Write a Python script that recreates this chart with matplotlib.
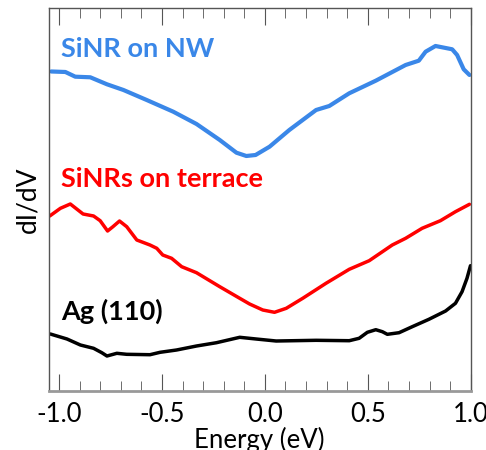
import matplotlib
matplotlib.use("Agg")
import matplotlib.pyplot as plt
from matplotlib.ticker import MultipleLocator

# --- data (energy in eV, dI/dV in arb. units) ---
nw_energy = [-1.038, -0.969, -0.921, -0.848, -0.767, -0.687, -0.574, -0.445,
             -0.332, -0.219, -0.138, -0.090, -0.045, 0.023, 0.119, 0.249,
             0.313, 0.410, 0.539, 0.684, 0.748, 0.781, 0.829, 0.910, 0.934,
             0.966, 0.994]
nw_didv = [3.285, 3.28, 3.233, 3.227, 3.157, 3.10, 3.00, 2.883, 2.76, 2.60,
           2.473, 2.44, 2.45, 2.533, 2.70, 2.90, 2.94, 3.067, 3.193, 3.35,
           3.393, 3.483, 3.54, 3.507, 3.45, 3.307, 3.25]

terrace_energy = [-1.045, -0.993, -0.945, -0.883, -0.832, -0.800, -0.764,
                  -0.738, -0.706, -0.671, -0.622, -0.558, -0.525, -0.496,
                  -0.453, -0.404, -0.332, -0.219, -0.122, -0.074, -0.010,
                  0.047, 0.104, 0.184, 0.297, 0.410, 0.507, 0.619, 0.684,
                  0.764, 0.853, 0.926, 0.994]
terrace_didv = [1.84, 1.917, 1.96, 1.86, 1.84, 1.793, 1.69, 1.733, 1.79,
                1.733, 1.60, 1.55, 1.517, 1.45, 1.417, 1.333, 1.273, 1.133,
                1.017, 0.96, 0.90, 0.877, 0.917, 1.017, 1.167, 1.307, 1.393,
                1.55, 1.617, 1.717, 1.793, 1.883, 1.957]

ag_energy = [-1.042, -0.961, -0.896, -0.832, -0.792, -0.767, -0.719, -0.671,
             -0.558, -0.509, -0.429, -0.332, -0.235, -0.122, -0.042, 0.055,
             0.249, 0.410, 0.458, 0.498, 0.539, 0.571, 0.595, 0.652, 0.716,
             0.797, 0.878, 0.926, 0.958, 0.982, 0.999]
ag_didv = [0.66, 0.61, 0.55, 0.517, 0.473, 0.44, 0.467, 0.457, 0.453, 0.477,
           0.50, 0.54, 0.573, 0.627, 0.61, 0.59, 0.597, 0.593, 0.617, 0.677,
           0.703, 0.683, 0.657, 0.673, 0.733, 0.807, 0.89, 0.967, 1.083,
           1.217, 1.343]

BLUE = "#3a87e8"
RED = "#ff0000"

plt.rcParams["font.family"] = ["Lato", "DejaVu Sans"]

fig = plt.figure(figsize=(4.86, 4.5), dpi=100)
ax = fig.add_axes([0.1002, 0.1322, 0.8683, 0.8494])

line_kw = dict(solid_capstyle="round", solid_joinstyle="round")
ax.plot(nw_energy, nw_didv, color=BLUE, lw=3.0, **line_kw)
ax.plot(terrace_energy, terrace_didv, color=RED, lw=2.5, **line_kw)
ax.plot(ag_energy, ag_didv, color="black", lw=2.5, **line_kw)

txt = dict(fontsize=19.5, fontweight="bold", va="baseline", ha="left")
ax.text(-0.988, 3.43, "SiNR on NW", color=BLUE, **txt)
ax.text(-0.988, 2.13, "SiNRs on terrace", color=RED, **txt)
ax.text(-0.988, 0.80, "Ag (110)", color="black", **txt)

ax.set_xlim(-1.05, 1.0)
ax.set_ylim(0.095, 3.917)
ax.xaxis.set_major_locator(MultipleLocator(0.5))
ax.xaxis.set_minor_locator(MultipleLocator(0.1))
ax.set_xticks([-1.0, -0.5, 0.0, 0.5, 1.0])
ax.set_xticklabels(["-1.0", "-0.5", "0.0", "0.5", "1.0"])
ax.tick_params(axis="x", which="both", direction="in", top=True,
               color="#555555", labelsize=18.5, pad=8)
ax.tick_params(axis="x", which="major", length=12)
ax.tick_params(axis="x", which="minor", length=7)
ax.set_yticks([])

for side in ["top", "right", "left"]:
    ax.spines[side].set_color("#555555")
    ax.spines[side].set_linewidth(1.0)
ax.spines["bottom"].set_color("#999999")
ax.spines["bottom"].set_linewidth(2.0)

ax.set_xlabel("Energy (eV)", fontsize=18.5, labelpad=0)
ax.set_ylabel("dI/dV", fontsize=19, labelpad=6)

fig.savefig("out.png", dpi=100)
